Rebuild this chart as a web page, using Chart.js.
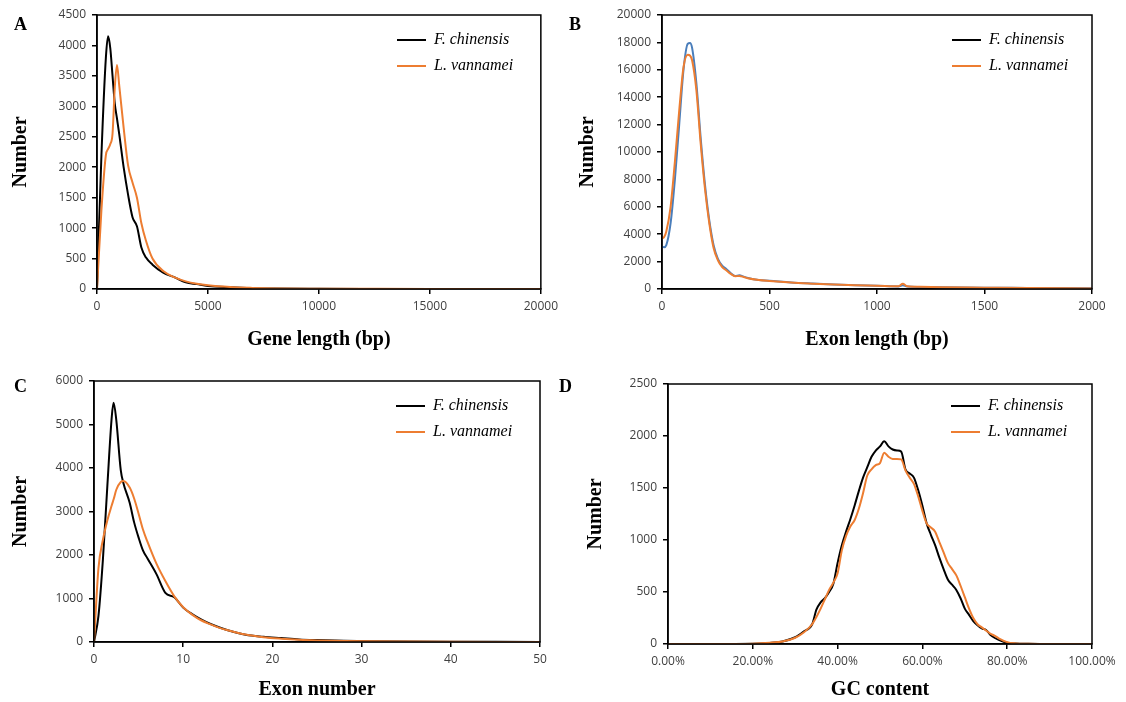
<!DOCTYPE html>
<html>
<head>
<meta charset="utf-8">
<script src="https://cdn.jsdelivr.net/npm/chart.js@4/dist/chart.umd.min.js"></script>
<style>
  body { margin: 0; background: #fff; width: 1126px; height: 702px; position: relative; overflow: hidden; }
  .panel { position: absolute; }
  .tag { position: absolute; font: bold 18px "Liberation Serif", serif; color: #000; }
</style>
</head>
<body>
<div class="panel" style="left:0;top:0"><canvas id="chartA" width="563" height="355"></canvas></div>
<div class="panel" style="left:563px;top:0"><canvas id="chartB" width="563" height="355"></canvas></div>
<div class="panel" style="left:0;top:355px"><canvas id="chartC" width="563" height="347"></canvas></div>
<div class="panel" style="left:563px;top:355px"><canvas id="chartD" width="563" height="347"></canvas></div>
<div class="tag" style="left:14px;top:14px">A</div>
<div class="tag" style="left:569px;top:14px">B</div>
<div class="tag" style="left:14px;top:376px">C</div>
<div class="tag" style="left:559px;top:376px">D</div>
<script>
const seriesNames = ['F. chinensis', 'L. vannamei'];

// A - gene length distribution
const geneLen = [0, 200, 400, 500, 600, 700, 800, 900, 1000, 1200, 1400, 1600, 1800, 2000, 2200, 2500, 3000, 3500, 4000, 4500, 5000, 6000, 7000, 8000, 10000, 12000, 15000, 20000];
const geneFc = [0, 2200, 3800, 4150, 3950, 3500, 3050, 2800, 2550, 2000, 1550, 1180, 1030, 680, 520, 400, 265, 190, 110, 80, 50, 28, 14, 8, 4, 2, 1, 0];
const geneLv = [0, 1300, 2200, 2300, 2380, 2550, 3300, 3680, 3350, 2650, 2030, 1750, 1500, 1080, 800, 500, 290, 190, 125, 85, 60, 32, 18, 10, 5, 3, 1, 0];

// B - exon length distribution
const exonLen = [0, 10, 20, 40, 60, 80, 100, 120, 130, 140, 160, 180, 200, 220, 240, 260, 280, 300, 320, 340, 360, 380, 400, 450, 500, 600, 700, 800, 900, 1000, 1100, 1120, 1140, 1200, 1300, 1500, 1700, 2000];
const exonLenFc = [3100, 3050, 3200, 4800, 8000, 12000, 16000, 17900, 17950, 17600, 15000, 11000, 7600, 5000, 3200, 2200, 1700, 1450, 1150, 950, 1000, 900, 800, 650, 600, 480, 400, 330, 280, 240, 190, 280, 180, 150, 130, 100, 80, 50];
const exonLenLv = [3700, 3800, 4200, 6000, 9300, 13000, 16200, 17100, 17050, 16700, 14500, 10600, 7300, 4800, 3000, 2100, 1600, 1350, 1100, 930, 950, 880, 780, 650, 580, 470, 390, 320, 270, 240, 200, 380, 200, 160, 130, 100, 70, 40];

// C - exon number per gene
const exonNum = [0, 0.5, 1, 1.5, 2, 2.2, 2.5, 3, 3.3, 4, 4.5, 5, 5.5, 6, 7, 8, 9, 10, 11, 12, 13, 14, 15, 17, 19, 21, 23, 25, 28, 31, 35, 40, 45, 50];
const exonNumFc = [0, 600, 1900, 3600, 5200, 5500, 5100, 3950, 3650, 3200, 2750, 2400, 2100, 1920, 1560, 1130, 1030, 790, 640, 520, 420, 340, 270, 165, 120, 90, 60, 45, 30, 20, 12, 6, 3, 1];
const exonNumLv = [0, 1700, 2350, 2800, 3150, 3280, 3500, 3680, 3700, 3550, 3300, 2950, 2580, 2300, 1800, 1400, 1050, 800, 630, 500, 410, 330, 270, 170, 110, 75, 50, 35, 22, 15, 10, 5, 2, 1];

// D - GC content (%)
const gcPct = [0, 10, 20, 24, 27, 30, 32, 34, 35, 36, 37, 38, 39, 40, 41, 42, 43, 44, 45, 46, 47, 48, 49, 50, 51, 52, 53, 54, 55, 56, 57, 58, 59, 60, 61, 62, 63, 64, 65, 66, 67, 68, 69, 70, 71, 72, 73, 74, 75, 76, 77, 78, 80, 82, 85, 90, 100];
const gcFc = [0, 0, 2, 10, 25, 65, 120, 190, 330, 400, 440, 500, 580, 780, 950, 1080, 1200, 1330, 1470, 1600, 1700, 1800, 1860, 1900, 1950, 1900, 1870, 1860, 1850, 1680, 1640, 1600, 1480, 1330, 1160, 1050, 950, 830, 720, 620, 570, 520, 440, 340, 280, 220, 180, 150, 135, 90, 60, 40, 12, 5, 2, 0, 0];
const gcLv = [0, 0, 3, 12, 25, 60, 110, 190, 260, 340, 430, 520, 590, 680, 900, 1040, 1130, 1190, 1300, 1450, 1620, 1680, 1720, 1740, 1840, 1800, 1780, 1780, 1775, 1670, 1600, 1540, 1420, 1280, 1160, 1120, 1080, 980, 880, 780, 720, 660, 560, 450, 340, 250, 190, 160, 130, 100, 80, 55, 18, 6, 2, 0, 0];

function pairs(xs, ys) {
  return xs.map((x, i) => ({ x: x, y: ys[i] }));
}

// draws the box round the plot and puts the legend in the top right of it
const framePlugin = {
  id: 'frame',
  beforeDraw(chart, args, opts) {
    const lg = chart.legend;
    if (lg && opts.legendAt) {
      lg.left = opts.legendAt[0];
      lg.top = opts.legendAt[1];
      lg.right = lg.left + 200;
      lg.bottom = lg.top + 80;
    }
  },
  afterDatasetsDraw(chart) {
    const a = chart.chartArea;
    const c = chart.ctx;
    c.save();
    c.strokeStyle = '#000';
    c.lineWidth = 1.5;
    c.strokeRect(a.left, a.top, a.right - a.left, a.bottom - a.top);
    c.restore();
  }
};

const tickFont = { family: 'Open Sans', size: 12 };
const titleFont = { family: 'Liberation Serif', size: 20, weight: 'bold' };

function makePanel(id, p) {
  const colors = p.colors || ['#000000', '#ED7D31'];
  return new Chart(document.getElementById(id), {
    type: 'line',
    data: {
      datasets: [
        { label: seriesNames[0], data: pairs(p.xs, p.fc), borderColor: colors[0], order: 1 },
        { label: seriesNames[1], data: pairs(p.xs, p.lv), borderColor: '#ED7D31', order: 0 }
      ]
    },
    plugins: [framePlugin],
    options: {
      responsive: false,
      animation: false,
      layout: { padding: { top: p.pad[0], right: p.pad[1], bottom: 0, left: 0 } },
      elements: {
        point: { radius: 0 },
        line: { borderWidth: 2, tension: 0.4, cubicInterpolationMode: 'monotone', fill: false }
      },
      plugins: {
        frame: { legendAt: p.legendAt },
        tooltip: { enabled: false },
        legend: {
          position: 'chartArea',
          align: 'start',
          labels: {
            usePointStyle: true,
            pointStyle: 'line',
            pointStyleWidth: 29,
            padding: 10,
            color: '#000',
            font: { family: 'Liberation Serif', size: 16, style: 'italic' },
            sort: (a, b) => a.datasetIndex - b.datasetIndex,
            generateLabels(chart) {
              return Chart.defaults.plugins.legend.labels.generateLabels(chart).map((l) => {
                l.strokeStyle = l.datasetIndex === 0 ? '#000000' : '#ED7D31';
                l.lineWidth = 2;
                return l;
              });
            }
          }
        }
      },
      scales: {
        x: {
          type: 'linear',
          min: p.xMin, max: p.xMax,
          afterFit: (s) => { s.height = p.xAxisH; },
          border: { display: true, color: '#000', width: 1.5 },
          grid: { display: true, drawOnChartArea: false, drawTicks: true, tickLength: 5, color: '#000', lineWidth: 1.5 },
          ticks: { stepSize: p.xStep, maxRotation: 0, autoSkip: false, font: tickFont, color: '#404040', padding: 5, callback: p.xFmt || ((v) => String(v)) },
          title: { display: true, text: p.xTitle, font: titleFont, color: '#000', padding: { top: 0, bottom: p.xTitlePad } }
        },
        y: {
          min: 0, max: p.yMax,
          afterFit: (s) => { s.width = p.yAxisW; },
          border: { display: true, color: '#000', width: 1.5 },
          grid: { display: true, drawOnChartArea: false, drawTicks: true, tickLength: 5, color: '#000', lineWidth: 1.5 },
          ticks: { stepSize: p.yStep, autoSkip: false, font: tickFont, color: '#404040', padding: 6, callback: (v) => String(v) },
          title: { display: true, text: 'Number', font: titleFont, color: '#000', padding: { top: p.yTitlePad, bottom: 0 } }
        }
      }
    }
  });
}

makePanel('chartA', {
  xs: geneLen, fc: geneFc, lv: geneLv,
  xMin: 0, xMax: 20000, xStep: 5000, yMax: 4500, yStep: 500,
  xTitle: 'Gene length (bp)', pad: [15, 10], yAxisW: 97, xAxisH: 66,
  xTitlePad: 3, yTitlePad: 9, legendAt: [387, 22]
});

makePanel('chartB', {
  xs: exonLen, fc: exonLenFc, lv: exonLenLv, colors: ['#4A7EBB', '#ED7D31'],
  xMin: 0, xMax: 2000, xStep: 500, yMax: 20000, yStep: 2000,
  xTitle: 'Exon length (bp)', pad: [15, 34], yAxisW: 99, xAxisH: 66,
  xTitlePad: 3, yTitlePad: 13, legendAt: [379, 22]
});

makePanel('chartC', {
  xs: exonNum, fc: exonNumFc, lv: exonNumLv,
  xMin: 0, xMax: 50, xStep: 10, yMax: 6000, yStep: 1000,
  xTitle: 'Exon number', pad: [26, 23], yAxisW: 94, xAxisH: 60,
  xTitlePad: 0, yTitlePad: 9, legendAt: [386, 33]
});

makePanel('chartD', {
  xs: gcPct, fc: gcFc, lv: gcLv,
  xMin: 0, xMax: 100, xStep: 20, yMax: 2500, yStep: 500,
  xFmt: (v) => v.toFixed(2) + '%',
  xTitle: 'GC content', pad: [29, 34], yAxisW: 105, xAxisH: 58,
  xTitlePad: 0, yTitlePad: 21, legendAt: [378, 33]
});
</script>
</body>
</html>
